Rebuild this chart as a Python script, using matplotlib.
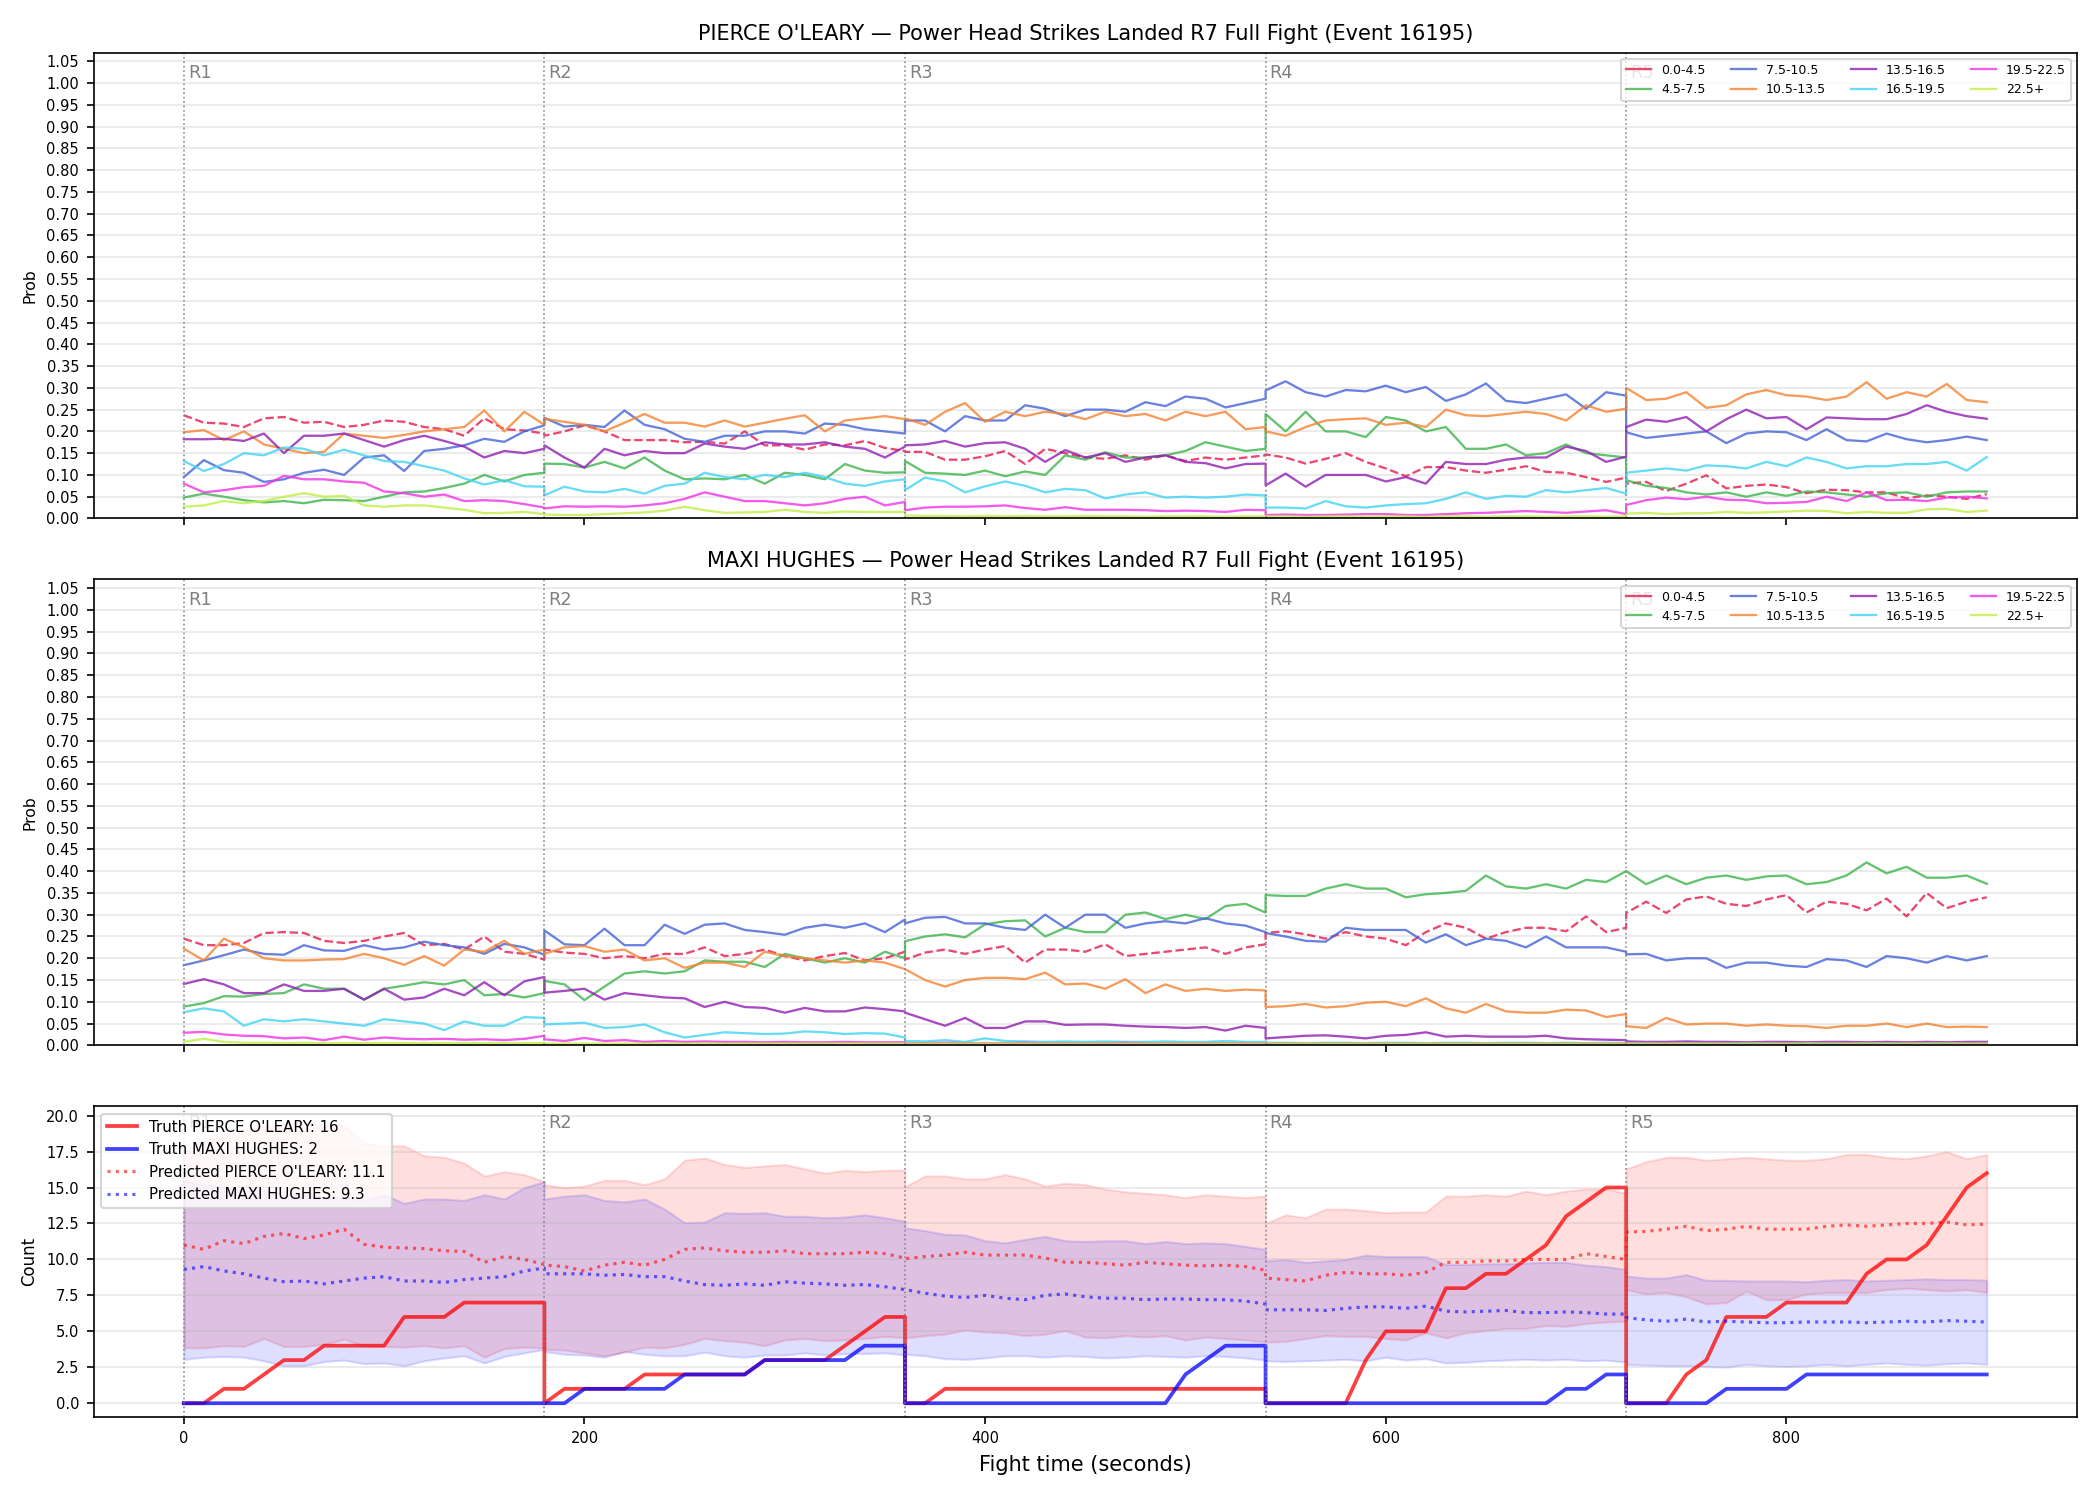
import numpy as np
import matplotlib
matplotlib.use("Agg")
from matplotlib import pyplot as plt
import matplotlib.transforms as mtransforms

# ---- sample grid: 5 rounds, one value every 10 s (round start and end both kept)
round_starts = [0, 180, 360, 540, 720]
offsets = np.arange(0, 181, 10)
t = np.concatenate([s + offsets for s in round_starts])

bins = ["0.0-4.5", "4.5-7.5", "7.5-10.5", "10.5-13.5", "13.5-16.5", "16.5-19.5", "19.5-22.5", "22.5+"]
bin_colors = ["#e6194b", "#3cb44b", "#4363d8", "#f58231", "#911eb4", "#42d4f4", "#f032e6", "#bfef45"]

# ---- PIERCE O'LEARY bin probabilities
p_00 = [.237,.220,.218,.210,.230,.233,.220,.222,.210,.215,.225,.222,.210,.205,.190,.230,.205,.202,.195,
        .190,.200,.214,.200,.180,.180,.180,.175,.176,.172,.200,.168,.168,.158,.170,.168,.178,.162,.155,
        .153,.153,.135,.135,.143,.155,.125,.160,.150,.140,.137,.145,.135,.145,.132,.140,.135,.140,.145,
        .147,.140,.126,.137,.150,.130,.115,.097,.118,.118,.110,.105,.112,.120,.107,.105,.095,.084,.094,
        .080,.084,.063,.080,.099,.069,.075,.078,.072,.058,.066,.065,.060,.060,.046,.053,.050,.045,.056]
p_45 = [.048,.057,.050,.042,.037,.040,.035,.043,.042,.040,.050,.060,.062,.070,.080,.100,.085,.100,.105,
        .126,.125,.117,.130,.115,.140,.110,.090,.092,.090,.100,.080,.105,.100,.090,.125,.110,.105,.106,
        .132,.105,.103,.100,.110,.097,.108,.100,.145,.135,.152,.140,.140,.145,.155,.175,.165,.155,.160,
        .240,.200,.245,.200,.200,.187,.233,.225,.200,.210,.160,.160,.170,.145,.150,.170,.150,.145,.140,
        .088,.075,.070,.060,.055,.060,.050,.060,.052,.062,.060,.055,.050,.058,.060,.050,.060,.062,.062]
p_75 = [.095,.134,.111,.105,.084,.090,.105,.112,.100,.140,.145,.109,.155,.160,.168,.183,.176,.200,.214,
        .231,.211,.215,.210,.248,.215,.205,.183,.176,.190,.190,.200,.200,.195,.218,.215,.205,.200,.195,
        .225,.225,.200,.235,.225,.225,.260,.252,.235,.250,.250,.245,.267,.258,.280,.275,.255,.265,.275,
        .294,.315,.290,.280,.295,.292,.305,.290,.302,.270,.285,.310,.270,.265,.275,.285,.252,.290,.282,
        .198,.185,.190,.195,.200,.173,.195,.200,.198,.180,.205,.180,.177,.195,.182,.175,.180,.188,.180]
p_105 = [.198,.203,.180,.200,.170,.160,.150,.153,.195,.190,.185,.192,.200,.205,.210,.248,.200,.245,.215,
         .229,.222,.215,.200,.220,.240,.220,.220,.211,.225,.211,.220,.229,.237,.200,.225,.230,.235,.228,
         .230,.215,.245,.265,.222,.245,.235,.245,.240,.228,.245,.235,.240,.225,.245,.235,.245,.205,.210,
         .200,.190,.210,.225,.228,.230,.215,.220,.210,.250,.237,.235,.240,.245,.240,.225,.260,.245,.252,
         .300,.272,.275,.290,.254,.260,.285,.295,.283,.280,.272,.280,.313,.275,.290,.280,.309,.272,.267]
p_135 = [.182,.182,.183,.178,.195,.150,.190,.190,.195,.180,.165,.180,.190,.178,.165,.140,.155,.150,.160,
         .168,.140,.117,.160,.145,.155,.150,.150,.172,.165,.160,.175,.170,.170,.175,.165,.160,.140,.165,
         .168,.170,.178,.165,.173,.175,.160,.130,.157,.140,.150,.130,.140,.145,.130,.127,.115,.125,.126,
         .076,.103,.073,.100,.100,.100,.085,.095,.080,.130,.125,.125,.135,.140,.140,.165,.155,.130,.142,
         .210,.227,.222,.233,.200,.228,.250,.230,.233,.205,.232,.230,.228,.228,.240,.260,.245,.235,.229]
p_165 = [.132,.109,.125,.150,.145,.163,.160,.145,.158,.145,.132,.130,.120,.110,.092,.078,.088,.074,.073,
         .053,.073,.062,.060,.068,.057,.075,.080,.105,.095,.090,.100,.095,.105,.095,.080,.075,.085,.090,
         .065,.094,.085,.060,.074,.085,.075,.060,.068,.065,.046,.055,.060,.048,.050,.048,.050,.055,.053,
         .025,.025,.023,.040,.028,.025,.030,.033,.035,.045,.060,.045,.052,.050,.065,.060,.065,.070,.057,
         .105,.110,.115,.110,.122,.120,.115,.130,.120,.140,.130,.115,.120,.120,.125,.125,.130,.110,.141]
p_195 = [.080,.060,.065,.072,.075,.098,.090,.090,.085,.082,.062,.058,.050,.055,.040,.042,.040,.033,.025,
         .023,.028,.027,.028,.027,.030,.035,.045,.060,.050,.040,.040,.035,.030,.035,.045,.050,.030,.038,
         .019,.025,.027,.027,.028,.030,.024,.020,.026,.020,.020,.020,.019,.017,.018,.017,.015,.020,.019,
         .008,.009,.008,.008,.009,.010,.010,.008,.008,.010,.012,.013,.015,.017,.015,.013,.016,.019,.010,
         .031,.042,.048,.044,.050,.043,.042,.035,.036,.038,.050,.040,.060,.042,.043,.040,.048,.050,.046]
p_225 = [.027,.030,.040,.035,.040,.050,.058,.050,.052,.030,.027,.030,.030,.025,.020,.012,.013,.015,.010,
         .009,.008,.008,.010,.012,.014,.018,.027,.019,.013,.014,.015,.020,.015,.013,.016,.015,.015,.015,
         .007,.006,.006,.005,.006,.005,.006,.005,.005,.006,.005,.005,.004,.005,.005,.005,.004,.005,.005,
         .005,.005,.004,.005,.005,.004,.005,.005,.004,.005,.005,.004,.005,.005,.004,.005,.005,.004,.005,
         .011,.013,.010,.012,.012,.015,.013,.014,.016,.018,.017,.012,.015,.013,.013,.021,.022,.015,.018]

# ---- MAXI HUGHES bin probabilities
m_00 = [.245,.230,.230,.235,.258,.260,.258,.240,.235,.240,.250,.258,.230,.233,.220,.250,.215,.210,.197,
        .220,.213,.210,.200,.205,.200,.210,.210,.225,.205,.210,.220,.205,.195,.205,.212,.195,.200,.215,
        .197,.213,.220,.210,.220,.228,.190,.220,.220,.215,.232,.205,.210,.215,.220,.225,.210,.225,.232,
        .258,.262,.255,.245,.260,.250,.245,.230,.260,.280,.270,.245,.260,.270,.270,.262,.296,.260,.270,
        .304,.330,.304,.335,.342,.325,.320,.335,.345,.305,.330,.325,.310,.337,.296,.350,.315,.330,.340]
m_45 = [.089,.097,.113,.112,.118,.120,.140,.130,.130,.105,.130,.137,.145,.140,.150,.115,.118,.110,.120,
        .148,.140,.104,.135,.165,.170,.165,.170,.195,.192,.192,.180,.210,.200,.190,.200,.190,.215,.200,
        .239,.250,.255,.248,.278,.285,.287,.250,.270,.260,.260,.300,.305,.290,.300,.290,.320,.325,.305,
        .345,.343,.343,.360,.370,.360,.360,.340,.347,.350,.355,.390,.365,.360,.370,.360,.380,.375,.400,
        .400,.370,.390,.370,.385,.390,.380,.388,.390,.370,.375,.390,.420,.395,.410,.385,.385,.390,.371]
m_75 = [.184,.195,.207,.220,.210,.208,.230,.218,.217,.230,.220,.225,.238,.230,.225,.210,.233,.225,.208,
        .264,.232,.230,.268,.230,.230,.277,.256,.277,.280,.265,.260,.254,.270,.277,.270,.280,.260,.289,
        .280,.293,.295,.280,.280,.270,.265,.300,.270,.300,.300,.270,.280,.285,.280,.292,.280,.275,.260,
        .258,.250,.240,.238,.270,.265,.265,.265,.236,.255,.230,.245,.240,.225,.250,.225,.225,.225,.215,
        .209,.210,.195,.200,.200,.178,.190,.190,.183,.180,.198,.195,.180,.205,.200,.190,.205,.195,.205]
m_105 = [.222,.195,.245,.225,.200,.195,.195,.197,.198,.210,.200,.185,.205,.183,.220,.215,.240,.210,.220,
         .210,.225,.228,.215,.220,.195,.200,.178,.190,.190,.180,.215,.205,.200,.195,.190,.195,.190,.175,
         .175,.150,.135,.150,.155,.155,.152,.167,.140,.142,.130,.152,.120,.140,.125,.130,.125,.128,.126,
         .088,.090,.095,.087,.090,.098,.100,.090,.108,.085,.075,.095,.078,.075,.075,.082,.080,.065,.072,
         .044,.040,.063,.048,.050,.050,.045,.048,.045,.044,.040,.045,.045,.050,.042,.050,.042,.043,.042]
m_135 = [.141,.152,.140,.120,.120,.140,.125,.125,.130,.105,.130,.105,.110,.130,.115,.145,.115,.147,.157,
         .121,.125,.130,.105,.120,.115,.110,.108,.088,.100,.088,.086,.075,.086,.078,.078,.087,.083,.078,
         .075,.060,.045,.063,.040,.040,.055,.055,.047,.048,.048,.045,.043,.042,.040,.042,.034,.045,.040,
         .016,.019,.022,.023,.020,.016,.022,.024,.030,.020,.022,.020,.020,.020,.022,.016,.014,.013,.012,
         .009,.008,.008,.009,.008,.008,.007,.008,.008,.007,.008,.008,.007,.008,.007,.008,.007,.008,.008]
m_165 = [.076,.085,.078,.045,.060,.055,.060,.055,.050,.045,.060,.055,.050,.035,.055,.045,.045,.065,.063,
         .048,.050,.052,.040,.042,.048,.030,.018,.024,.030,.028,.026,.027,.032,.030,.026,.028,.027,.018,
         .010,.009,.012,.008,.016,.010,.009,.008,.009,.008,.009,.008,.008,.009,.008,.008,.010,.008,.008,
         .006,.006,.005,.006,.006,.005,.006,.006,.005,.006,.006,.005,.006,.006,.005,.006,.005,.006,.005,
         .005,.005,.004,.005,.005,.004,.005,.005,.004,.005,.005,.004,.005,.005,.004,.005,.005,.004,.005]
m_195 = [.029,.031,.025,.022,.021,.016,.018,.012,.020,.013,.018,.015,.014,.015,.013,.014,.012,.015,.022,
         .014,.010,.017,.010,.012,.008,.010,.008,.009,.008,.008,.007,.008,.007,.007,.008,.007,.007,.007,
         .005,.005,.006,.005,.005,.005,.006,.005,.005,.005,.005,.006,.005,.005,.005,.005,.005,.005,.005,
         .004,.004,.004,.004,.004,.004,.004,.004,.004,.004,.004,.004,.004,.004,.004,.004,.004,.004,.004,
         .004,.004,.004,.004,.004,.004,.004,.004,.004,.004,.004,.004,.004,.004,.004,.004,.004,.004,.004]
m_225 = [.008,.015,.008,.006,.006,.005,.006,.005,.005,.005,.005,.005,.005,.005,.005,.005,.005,.005,.005,
         .004,.004,.004,.004,.004,.004,.004,.004,.004,.004,.004,.004,.004,.004,.004,.004,.004,.004,.004,
         .004,.004,.004,.004,.004,.004,.004,.004,.004,.004,.004,.004,.004,.004,.004,.004,.004,.004,.004,
         .004,.004,.004,.004,.004,.004,.004,.004,.004,.004,.004,.004,.004,.004,.004,.004,.004,.004,.004,
         .004,.004,.004,.004,.004,.004,.004,.004,.004,.004,.004,.004,.004,.004,.004,.004,.004,.004,.004]

# ---- cumulative counts (reset each round)
truth_pierce = [0,0,1,1,2,3,3,4,4,4,4,6,6,6,7,7,7,7,7,
                0,1,1,1,1,2,2,2,2,2,2,3,3,3,3,4,5,6,6,
                0,0,1,1,1,1,1,1,1,1,1,1,1,1,1,1,1,1,1,
                0,0,0,0,0,3,5,5,5,8,8,9,9,10,11,13,14,15,15,
                0,0,0,2,3,6,6,6,7,7,7,7,9,10,10,11,13,15,16]
truth_maxi = [0,0,0,0,0,0,0,0,0,0,0,0,0,0,0,0,0,0,0,
              0,0,1,1,1,1,1,2,2,2,2,3,3,3,3,3,4,4,4,
              0,0,0,0,0,0,0,0,0,0,0,0,0,0,2,3,4,4,4,
              0,0,0,0,0,0,0,0,0,0,0,0,0,0,0,1,1,2,2,
              0,0,0,0,0,1,1,1,1,2,2,2,2,2,2,2,2,2,2]
pred_pierce = [11.0,10.7,11.3,11.1,11.6,11.8,11.45,11.7,12.1,11.05,10.85,10.8,10.75,10.6,10.55,9.8,10.2,10.0,9.65,
               9.6,9.5,9.2,9.6,9.8,9.6,10.0,10.7,10.8,10.6,10.5,10.5,10.6,10.4,10.4,10.4,10.5,10.4,10.1,
               10.05,10.2,10.3,10.5,10.3,10.3,10.3,10.1,9.8,9.8,9.7,9.6,9.8,9.7,9.6,9.55,9.6,9.5,9.25,
               8.7,8.6,8.5,8.9,9.1,9.0,9.0,8.9,9.1,9.8,9.8,9.9,9.9,10.0,10.0,10.0,10.4,10.2,10.0,
               11.9,11.95,12.1,12.3,12.0,12.1,12.3,12.1,12.1,12.1,12.3,12.4,12.3,12.4,12.5,12.5,12.6,12.4,12.45]
pred_maxi = [9.3,9.5,9.2,9.0,8.7,8.45,8.5,8.3,8.5,8.7,8.8,8.5,8.5,8.4,8.6,8.7,8.8,9.2,9.4,
             9.0,9.0,9.0,8.9,8.95,8.8,8.8,8.5,8.25,8.2,8.3,8.2,8.45,8.35,8.3,8.2,8.25,8.1,7.9,
             7.9,7.65,7.45,7.35,7.5,7.3,7.2,7.5,7.6,7.4,7.3,7.3,7.2,7.25,7.25,7.2,7.2,7.1,6.9,
             6.5,6.5,6.5,6.45,6.6,6.7,6.7,6.6,6.75,6.4,6.35,6.4,6.45,6.3,6.3,6.35,6.3,6.2,6.2,
             5.95,5.8,5.7,5.85,5.65,5.7,5.65,5.6,5.6,5.65,5.65,5.65,5.6,5.65,5.7,5.65,5.75,5.7,5.65]
pierce_hi = [17.5,18.2,18.6,19.0,19.3,19.4,19.6,19.4,19.3,18.1,17.9,17.9,17.2,17.1,16.7,15.8,16.1,15.9,15.4,
             15.2,15.0,15.1,15.5,15.5,15.2,15.6,16.9,17.05,16.6,16.4,16.5,16.6,16.3,16.0,16.2,16.1,16.2,16.2,
             15.05,15.8,15.8,15.6,15.6,15.9,15.6,15.1,15.3,15.2,14.9,14.7,14.6,14.5,14.3,14.5,14.4,14.3,14.4,
             12.5,13.1,12.9,13.5,13.5,13.4,13.25,13.3,13.3,14.4,14.4,14.5,14.4,14.75,14.5,14.75,14.9,14.9,14.6,
             16.3,16.8,17.1,17.1,16.9,17.0,17.1,17.0,16.9,16.9,17.0,17.3,17.3,17.1,17.0,17.2,17.5,17.0,17.3]
pierce_lo = [3.85,3.85,4.0,3.95,4.5,3.95,3.95,4.1,4.45,4.0,3.95,3.9,4.0,3.85,4.0,3.2,3.8,3.9,3.85,
             3.75,3.7,3.5,3.3,3.55,3.9,3.85,4.1,4.5,4.35,4.25,4.0,4.4,4.5,4.35,4.4,4.5,4.65,4.55,
             4.55,4.7,4.8,5.1,4.95,4.9,4.7,4.8,5.05,4.6,4.55,4.7,4.6,4.7,4.4,4.6,4.5,4.4,4.25,
             4.25,4.3,4.5,4.7,4.65,4.65,4.5,4.4,4.9,4.55,4.9,5.05,5.2,5.2,5.4,5.35,5.55,5.65,5.7,
             7.9,7.6,7.7,7.4,6.9,7.0,7.8,7.2,7.2,7.6,7.7,7.7,7.7,7.9,8.0,7.9,7.8,7.9,7.7]
maxi_hi = [15.5,15.2,15.0,14.8,14.8,14.5,14.5,14.3,14.3,14.1,14.5,13.9,14.2,14.2,14.1,14.5,14.2,15.0,15.4,
           14.2,14.4,14.5,14.1,14.0,14.2,13.5,12.55,12.6,13.25,13.2,13.25,13.0,13.0,12.9,12.95,13.1,12.9,12.65,
           12.2,12.0,11.75,11.7,11.3,11.15,11.4,11.6,11.3,11.25,11.3,11.3,11.1,11.25,11.1,11.15,11.1,10.9,10.7,
           9.9,10.0,9.8,9.9,10.0,10.3,10.2,10.2,10.2,9.65,9.65,9.7,9.7,9.75,9.8,9.8,9.6,9.5,9.3,
           8.85,8.7,8.7,8.95,8.55,8.55,8.5,8.5,8.5,8.45,8.55,8.6,8.5,8.55,8.6,8.65,8.6,8.6,8.55]
maxi_lo = [3.05,3.2,3.25,3.2,2.95,2.6,2.6,2.9,3.0,2.75,2.8,2.6,2.95,3.15,3.3,2.8,3.25,3.5,3.75,
           3.6,3.4,3.35,3.2,3.6,3.4,3.3,3.3,3.55,3.3,3.2,3.35,3.35,3.5,3.35,3.45,3.45,3.5,3.35,
           3.4,3.3,3.1,3.05,3.15,3.3,3.3,3.2,3.3,3.25,3.15,3.2,3.3,3.25,3.2,3.3,3.25,3.15,3.0,
           2.95,2.9,2.95,3.0,3.05,2.95,3.2,3.0,3.1,2.8,2.85,2.95,3.0,3.05,3.0,3.05,2.95,3.0,2.85,
           2.7,2.65,2.6,2.6,2.55,2.5,2.7,2.6,2.55,2.6,2.7,2.6,2.7,2.8,2.7,2.65,2.75,2.8,2.7]

fighter_a = "PIERCE O'LEARY"
fighter_b = "MAXI HUGHES"
market = "Power Head Strikes Landed R7 Full Fight (Event 16195)"


fig, axes = plt.subplots(3, 1, figsize=(14, 10), dpi=150, sharex=True,
                         gridspec_kw={"height_ratios": [3, 3, 2], "hspace": 0.147})
fig.subplots_adjust(left=0.0446, right=0.989, top=0.965, bottom=0.0554)


def round_marks(ax):
    trans = mtransforms.blended_transform_factory(ax.transData, ax.transAxes)
    for i, s in enumerate(round_starts):
        ax.axvline(s, color="gray", ls=":", lw=0.8, alpha=0.9)
        ax.text(s + 2, 0.975, "R%d" % (i + 1), transform=trans, va="top", ha="left",
                color="gray", fontsize=8.5)


def prob_panel(ax, series, name):
    for k, (lab, col, vals) in enumerate(zip(bins, bin_colors, series)):
        ls = "--" if k == 0 else "-"
        ax.plot(t, vals, color=col, ls=ls, lw=1.1, alpha=0.8, label=lab)
    round_marks(ax)
    ax.set_ylim(0, 1.07)
    ax.set_yticks(np.arange(0, 1.051, 0.05))
    ax.set_ylabel("Prob", fontsize=7.5)
    ax.grid(axis="y", alpha=0.3)
    ax.tick_params(labelsize=7)
    ax.set_title(name + " \u2014 " + market, fontsize=10)
    leg = ax.legend(loc="upper right", ncol=4, fontsize=6.0)
    leg.get_lines()[0].set_linestyle("-")


prob_panel(axes[0], [p_00, p_45, p_75, p_105, p_135, p_165, p_195, p_225], fighter_a)
prob_panel(axes[1], [m_00, m_45, m_75, m_105, m_135, m_165, m_195, m_225], fighter_b)

ax = axes[2]
ax.fill_between(t, pierce_lo, pierce_hi, color="red", alpha=0.13)
ax.fill_between(t, maxi_lo, maxi_hi, color="blue", alpha=0.13)
ax.plot(t, truth_pierce, color="red", lw=1.8, alpha=0.75, label="Truth %s: %d" % (fighter_a, truth_pierce[-1]))
ax.plot(t, truth_maxi, color="blue", lw=1.8, alpha=0.75, label="Truth %s: %d" % (fighter_b, truth_maxi[-1]))
ax.plot(t, pred_pierce, color="red", ls=":", lw=1.5, alpha=0.6, label="Predicted %s: 11.1" % fighter_a)
ax.plot(t, pred_maxi, color="blue", ls=":", lw=1.5, alpha=0.6, label="Predicted %s: 9.3" % fighter_b)
round_marks(ax)
ax.set_ylim(-0.95, 20.65)
ax.set_yticks(np.arange(0, 20.01, 2.5))
ax.set_ylabel("Count", fontsize=8)
ax.grid(axis="y", alpha=0.3)
ax.tick_params(labelsize=7)
ax.legend(loc="upper left", fontsize=7.2)
ax.set_xlabel("Fight time (seconds)", fontsize=10)
ax.set_xlim(-45, 945)

fig.savefig("out.png", dpi=150)
